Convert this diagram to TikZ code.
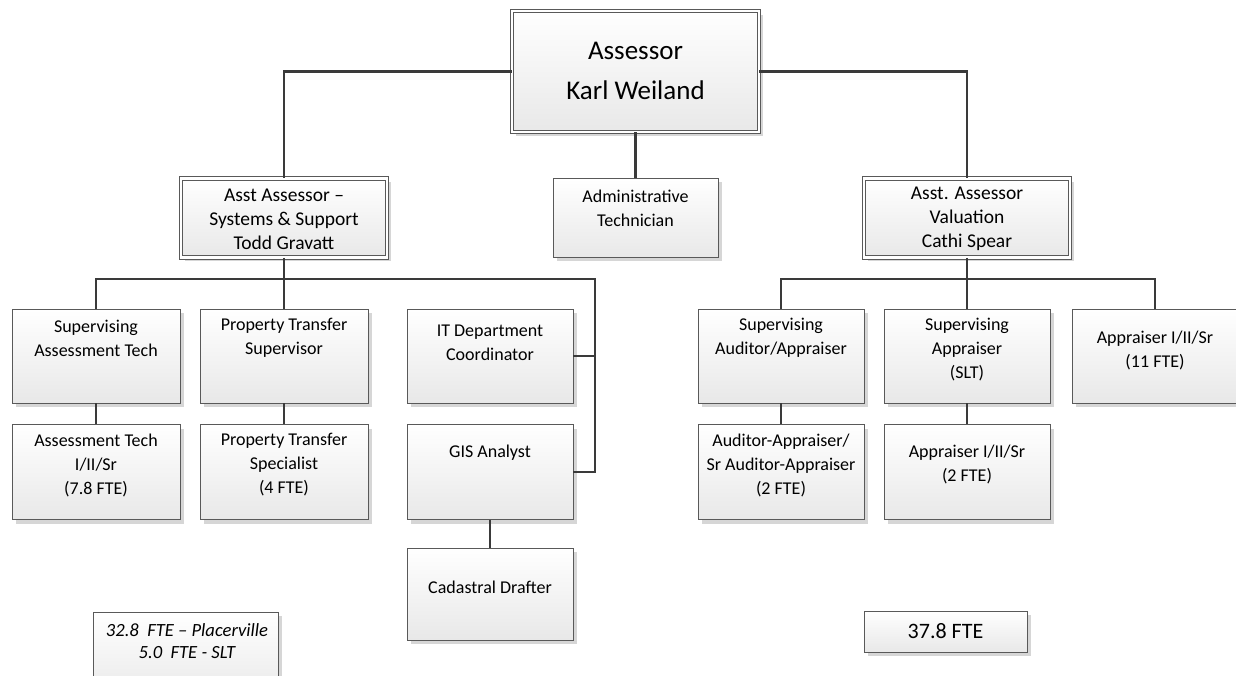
\documentclass[tikz,border=0pt]{standalone}
\usepackage{fontspec}
\setmainfont{Carlito}
\usetikzlibrary{shadows}

\definecolor{edgegray}{HTML}{595959}
\definecolor{wiregray}{HTML}{3A3A3A}
\definecolor{fillbot}{HTML}{E8E8E8}
\definecolor{shadegray}{HTML}{D6D6D6}

\tikzset{
  orgbox/.style={draw=edgegray, line width=0.9pt, top color=white, bottom color=fillbot,
    inner sep=0pt, drop shadow={shadow xshift=4pt, shadow yshift=-4pt, fill=shadegray, opacity=1}},
  headbox/.style={orgbox, double=white, double distance=2.4pt},
  txt/.style={align=center, inner sep=0pt, text=black, font=\fontsize{18}{24}\selectfont},
  bigtxt/.style={txt, font=\fontsize{19.5}{24}\selectfont},
  wire/.style={draw=wiregray, line width=2.2pt},
}

\begin{document}
\begin{tikzpicture}[x=1pt, y=-1pt]
  \fill[white] (0,0) rectangle (1236,676);
  \useasboundingbox (0,0) rectangle (1236,676);

  % ---- top level ----
  \node[headbox, minimum width=247pt, minimum height=121pt] (assessor) at (635.5,71.5) {};
  \node[txt, font=\fontsize{27}{40}\selectfont] (assessor-t) at (635.5,71) {Assessor\\Karl Weiland};

  % ---- second level ----
  \node[headbox, minimum width=206pt, minimum height=79pt] (asstL) at (284,218) {};
  \node[bigtxt] (asstL-t) at (284,219) {Asst Assessor --\\Systems \& Support\\Todd Gravatt};

  \node[orgbox, minimum width=165pt, minimum height=79pt] (admin) at (635.5,218) {};
  \node[txt] (admin-t) at (635.5,208) {Administrative\\Technician};

  \node[headbox, minimum width=206pt, minimum height=79pt] (asstR) at (967,218) {};
  \node[bigtxt] (asstR-t) at (967,219) {Asst. Assessor\\Valuation\\Cathi Spear};

  % ---- systems & support branch ----
  \node[orgbox, minimum width=168pt, minimum height=94pt] (sat) at (96,356) {};
  \node[txt] (sat-t) at (96,338) {Supervising\\Assessment Tech};

  \node[orgbox, minimum width=168pt, minimum height=94pt] (pts) at (284,356) {};
  \node[txt] (pts-t) at (284,338) {Property Transfer\\Supervisor};

  \node[orgbox, minimum width=166pt, minimum height=94pt] (it) at (490,356) {};
  \node[txt] (it-t) at (490,343) {IT Department\\Coordinator};

  \node[orgbox, minimum width=168pt, minimum height=95pt] (at) at (96,472) {};
  \node[txt] (at-t) at (96,465) {Assessment Tech\\I/II/Sr\\(7.8 FTE)};

  \node[orgbox, minimum width=168pt, minimum height=95pt] (ptsp) at (284,472) {};
  \node[txt] (ptsp-t) at (284,465) {Property Transfer\\Specialist\\(4 FTE)};

  \node[orgbox, minimum width=166pt, minimum height=95pt] (gis) at (490,472) {};
  \node[txt] (gis-t) at (490,453) {GIS Analyst};

  \node[orgbox, minimum width=166pt, minimum height=92pt] (cad) at (490,594) {};
  \node[txt] (cad-t) at (490,587) {Cadastral Drafter};

  % ---- valuation branch ----
  \node[orgbox, minimum width=166pt, minimum height=94pt] (saa) at (781,356) {};
  \node[txt] (saa-t) at (781,338) {Supervising\\Auditor/Appraiser};

  \node[orgbox, minimum width=166pt, minimum height=94pt] (sa) at (967,356) {};
  \node[txt] (sa-t) at (967,350) {Supervising\\Appraiser\\(SLT)};

  \node[orgbox, minimum width=166pt, minimum height=94pt] (app11) at (1155,356) {};
  \node[txt] (app11-t) at (1155,350) {Appraiser I/II/Sr\\(11 FTE)};

  \node[orgbox, minimum width=166pt, minimum height=95pt] (aa) at (781,472) {};
  \node[txt] (aa-t) at (781,465) {Auditor-Appraiser/\\Sr Auditor-Appraiser\\(2 FTE)};

  \node[orgbox, minimum width=166pt, minimum height=95pt] (app2) at (967,472) {};
  \node[txt] (app2-t) at (967,464) {Appraiser I/II/Sr\\(2 FTE)};

  % ---- staffing totals ----
  \node[orgbox, minimum width=185pt, minimum height=90pt] (totL) at (185.5,657) {};
  \node[txt, font=\fontsize{18.6}{22}\itshape\selectfont] (totL-t) at (187,641)
    {32.8\ \ FTE -- Placerville\\5.0\ \ FTE - SLT};

  \node[orgbox, minimum width=163pt, minimum height=41pt] (totR) at (945.5,631.5) {};
  \node[txt, font=\fontsize{22}{26}\selectfont] (totR-t) at (945.5,631) {37.8 FTE};

  % ---- connectors ----
  \coordinate (lbus) at (595,279);
  \coordinate (rbus) at (967,279);

  \draw[wire] (assessor.west) -| (asstL.north);
  \draw[wire] (assessor.east) -| (asstR.north);
  \draw[wire] (assessor.south) -- (admin.north);

  \draw[wire] (asstL.south) -- (pts.north);
  \draw[wire] (sat.north) |- (lbus) |- (gis.east);
  \draw[wire] (it.east) -- (it.east -| lbus);
  \draw[wire] (sat.south) -- (at.north);
  \draw[wire] (pts.south) -- (ptsp.north);
  \draw[wire] (gis.south) -- (cad.north);

  \draw[wire] (asstR.south) -- (sa.north);
  \draw[wire] (saa.north) |- (rbus) -| (app11.north);
  \draw[wire] (saa.south) -- (aa.north);
  \draw[wire] (sa.south) -- (app2.north);
\end{tikzpicture}
\end{document}
